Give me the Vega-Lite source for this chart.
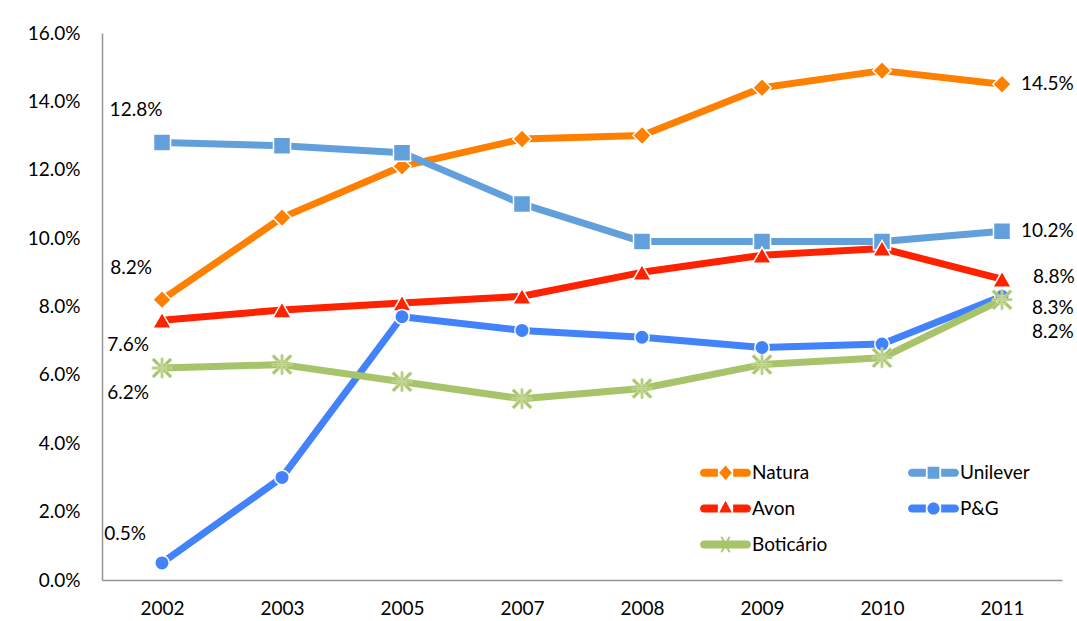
{
  "$schema": "https://vega.github.io/schema/vega-lite/v6.json",
  "width": 960,
  "height": 547,
  "autosize": "none",
  "padding": {"left": 102, "top": 33, "right": 15, "bottom": 41},
  "background": "white",
  "config": {"view": {"stroke": null}, "font": "Lato"},
  "data": {
    "values": [
      {"company": "Natura", "year": "2002", "value": 0.082},
      {"company": "Natura", "year": "2003", "value": 0.106},
      {"company": "Natura", "year": "2005", "value": 0.121},
      {"company": "Natura", "year": "2007", "value": 0.129},
      {"company": "Natura", "year": "2008", "value": 0.130},
      {"company": "Natura", "year": "2009", "value": 0.144},
      {"company": "Natura", "year": "2010", "value": 0.149},
      {"company": "Natura", "year": "2011", "value": 0.145},
      {"company": "Unilever", "year": "2002", "value": 0.128},
      {"company": "Unilever", "year": "2003", "value": 0.127},
      {"company": "Unilever", "year": "2005", "value": 0.125},
      {"company": "Unilever", "year": "2007", "value": 0.110},
      {"company": "Unilever", "year": "2008", "value": 0.099},
      {"company": "Unilever", "year": "2009", "value": 0.099},
      {"company": "Unilever", "year": "2010", "value": 0.099},
      {"company": "Unilever", "year": "2011", "value": 0.102},
      {"company": "Avon", "year": "2002", "value": 0.076},
      {"company": "Avon", "year": "2003", "value": 0.079},
      {"company": "Avon", "year": "2005", "value": 0.081},
      {"company": "Avon", "year": "2007", "value": 0.083},
      {"company": "Avon", "year": "2008", "value": 0.090},
      {"company": "Avon", "year": "2009", "value": 0.095},
      {"company": "Avon", "year": "2010", "value": 0.097},
      {"company": "Avon", "year": "2011", "value": 0.088},
      {"company": "P&G", "year": "2002", "value": 0.005},
      {"company": "P&G", "year": "2003", "value": 0.030},
      {"company": "P&G", "year": "2005", "value": 0.077},
      {"company": "P&G", "year": "2007", "value": 0.073},
      {"company": "P&G", "year": "2008", "value": 0.071},
      {"company": "P&G", "year": "2009", "value": 0.068},
      {"company": "P&G", "year": "2010", "value": 0.069},
      {"company": "P&G", "year": "2011", "value": 0.083},
      {"company": "Boticário", "year": "2002", "value": 0.062},
      {"company": "Boticário", "year": "2003", "value": 0.063},
      {"company": "Boticário", "year": "2005", "value": 0.058},
      {"company": "Boticário", "year": "2007", "value": 0.053},
      {"company": "Boticário", "year": "2008", "value": 0.056},
      {"company": "Boticário", "year": "2009", "value": 0.063},
      {"company": "Boticário", "year": "2010", "value": 0.065},
      {"company": "Boticário", "year": "2011", "value": 0.082}
    ]
  },
  "encoding": {
    "x": {
      "field": "year", "type": "ordinal",
      "scale": {"type": "point", "padding": 0.5},
      "axis": {"title": null, "labelAngle": 0, "ticks": false, "tickSize": 0, "labelPadding": 19,
        "labelFont": "Lato", "labelFontSize": 19, "labelColor": "#000000",
        "domainColor": "#949494", "domainWidth": 1.5, "grid": false}
    },
    "y": {
      "field": "value", "type": "quantitative",
      "scale": {"domain": [0, 0.16], "nice": false},
      "axis": {"title": null, "values": [0, 0.02, 0.04, 0.06, 0.08, 0.1, 0.12, 0.14, 0.16], "format": ".1%",
        "ticks": false, "tickSize": 0, "labelPadding": 22, "grid": false,
        "labelFont": "Lato", "labelFontSize": 19, "labelColor": "#000000",
        "domainColor": "#949494", "domainWidth": 1.5}
    }
  },
  "layer": [
    {
      "mark": {"type": "line", "strokeWidth": 7, "strokeCap": "round", "strokeJoin": "round"},
      "encoding": {
        "color": {
          "field": "company", "type": "nominal",
          "scale": {"domain": ["Natura", "Unilever", "Avon", "P&G", "Boticário"],
                    "range": ["#FF8000", "#62A0DB", "#FF2200", "#4282FA", "#A8C46A"]},
          "legend": {
            "title": null, "orient": "none", "legendX": 598, "legendY": 414, "direction": "horizontal",
            "columns": 2, "padding": 0, "symbolSize": 2600, "symbolStrokeWidth": 0,
            "rowPadding": -12, "columnPadding": 80, "labelOffset": 1,
            "labelFont": "Lato", "labelFontSize": 19, "labelColor": "#000000",
            "encode": {
              "symbols": {
                "update": {
                  "shape": {"signal": "datum.value === 'Natura' ? 'M-0.84,-0.16H-0.3V0.16H-0.84A0.16,0.16 0 0 1 -0.84,-0.16Z M0,-0.28L0.25,0L0,0.28L-0.25,0Z M0.3,-0.16H0.84A0.16,0.16 0 0 1 0.84,0.16H0.3Z' : datum.value === 'Unilever' ? 'M-0.84,-0.16H-0.3V0.16H-0.84A0.16,0.16 0 0 1 -0.84,-0.16Z M-0.23,-0.24H0.23V0.24H-0.23Z M0.3,-0.16H0.84A0.16,0.16 0 0 1 0.84,0.16H0.3Z' : datum.value === 'Avon' ? 'M-0.84,-0.16H-0.3V0.16H-0.84A0.16,0.16 0 0 1 -0.84,-0.16Z M0,-0.3L0.25,0.16L-0.25,0.16Z M0.3,-0.16H0.84A0.16,0.16 0 0 1 0.84,0.16H0.3Z' : datum.value === 'P&G' ? 'M-0.84,-0.16H-0.3V0.16H-0.84A0.16,0.16 0 0 1 -0.84,-0.16Z M-0.24,0A0.24,0.24 0 1 1 0.24,0A0.24,0.24 0 1 1 -0.24,0Z M0.3,-0.16H0.84A0.16,0.16 0 0 1 0.84,0.16H0.3Z' : 'M-0.84,-0.16H0.84A0.16,0.16 0 0 1 0.84,0.16H-0.84A0.16,0.16 0 0 1 -0.84,-0.16Z M-0.2,-0.3L-0.12,-0.3L0.2,0.3L0.12,0.3Z M0.12,-0.3L0.2,-0.3L-0.12,0.3L-0.2,0.3Z'"},
                  "fill": {"scale": "color", "field": "value"},
                  "stroke": {"value": "transparent"},
                  "strokeWidth": {"value": 0},
                  "opacity": {"value": 1},
                  "size": {"value": 2600}
                }
              }
            }
          }
        }
      }
    },
    {
      "transform": [{"filter": "datum.company === 'Natura'"}],
      "mark": {"type": "point", "shape": "diamond", "filled": true, "opacity": 1, "color": "#FF8000", "stroke": "#FFFFFF", "strokeWidth": 1.5, "size": 340}
    },
    {
      "transform": [{"filter": "datum.company === 'Unilever'"}],
      "mark": {"type": "point", "shape": "square", "filled": true, "opacity": 1, "color": "#62A0DB", "stroke": "#FFFFFF", "strokeWidth": 1.5, "size": 290}
    },
    {
      "transform": [{"filter": "datum.company === 'Avon'"}],
      "mark": {"type": "point", "shape": "triangle-up", "filled": true, "opacity": 1, "color": "#FF2200", "stroke": "#FFFFFF", "strokeWidth": 1.5, "size": 340}
    },
    {
      "transform": [{"filter": "datum.company === 'P&G'"}],
      "mark": {"type": "point", "shape": "circle", "filled": true, "opacity": 1, "color": "#4282FA", "stroke": "#FFFFFF", "strokeWidth": 1.5, "size": 210}
    },
    {
      "transform": [{"filter": "datum.company === 'Boticário'"}],
      "mark": {"type": "point", "shape": "M-1,-0.8L-0.8,-1L1,0.8L0.8,1Z M0.8,-1L1,-0.8L-0.8,1L-1,0.8Z M-0.4,-0.4H0.4V0.4H-0.4Z M-0.1,-1H0.1V1H-0.1Z M-1,-0.1H1V0.1H-1Z", "filled": true, "opacity": 1, "color": "#A8C46A", "stroke": "#C4D89A", "strokeWidth": 1, "size": 400}
    },
    {
      "transform": [{"filter": "datum.year === '2002' && datum.company === 'Unilever'"}],
      "mark": {"type": "text", "fontSize": 19, "font": "Lato", "color": "#000000", "align": "center", "baseline": "middle", "dx": -26, "dy": -32},
      "encoding": {"text": {"field": "value", "type": "quantitative", "format": ".1%"}}
    },
    {
      "transform": [{"filter": "datum.year === '2002' && datum.company === 'Natura'"}],
      "mark": {"type": "text", "fontSize": 19, "font": "Lato", "color": "#000000", "align": "center", "baseline": "middle", "dx": -31, "dy": -32},
      "encoding": {"text": {"field": "value", "type": "quantitative", "format": ".1%"}}
    },
    {
      "transform": [{"filter": "datum.year === '2002' && (datum.company === 'Avon' || datum.company === 'Boticário')"}],
      "mark": {"type": "text", "fontSize": 19, "font": "Lato", "color": "#000000", "align": "center", "baseline": "middle", "dx": -34, "dy": 25},
      "encoding": {"text": {"field": "value", "type": "quantitative", "format": ".1%"}}
    },
    {
      "transform": [{"filter": "datum.year === '2002' && datum.company === 'P&G'"}],
      "mark": {"type": "text", "fontSize": 19, "font": "Lato", "color": "#000000", "align": "center", "baseline": "middle", "dx": -37, "dy": -29},
      "encoding": {"text": {"field": "value", "type": "quantitative", "format": ".1%"}}
    },
    {
      "transform": [{"filter": "datum.year === '2011' && (datum.company === 'Natura' || datum.company === 'Unilever')"}],
      "mark": {"type": "text", "fontSize": 19, "font": "Lato", "color": "#000000", "align": "left", "baseline": "middle", "dx": 19, "dy": 0},
      "encoding": {"text": {"field": "value", "type": "quantitative", "format": ".1%"}}
    },
    {
      "transform": [{"filter": "datum.year === '2011' && datum.company === 'Avon'"}],
      "mark": {"type": "text", "fontSize": 19, "font": "Lato", "color": "#000000", "align": "left", "baseline": "middle", "dx": 31, "dy": -2},
      "encoding": {"text": {"field": "value", "type": "quantitative", "format": ".1%"}}
    },
    {
      "transform": [{"filter": "datum.year === '2011' && datum.company === 'P&G'"}],
      "mark": {"type": "text", "fontSize": 19, "font": "Lato", "color": "#000000", "align": "left", "baseline": "middle", "dx": 30, "dy": 12},
      "encoding": {"text": {"field": "value", "type": "quantitative", "format": ".1%"}}
    },
    {
      "transform": [{"filter": "datum.year === '2011' && datum.company === 'Boticário'"}],
      "mark": {"type": "text", "fontSize": 19, "font": "Lato", "color": "#000000", "align": "left", "baseline": "middle", "dx": 30, "dy": 32},
      "encoding": {"text": {"field": "value", "type": "quantitative", "format": ".1%"}}
    }
  ]
}
